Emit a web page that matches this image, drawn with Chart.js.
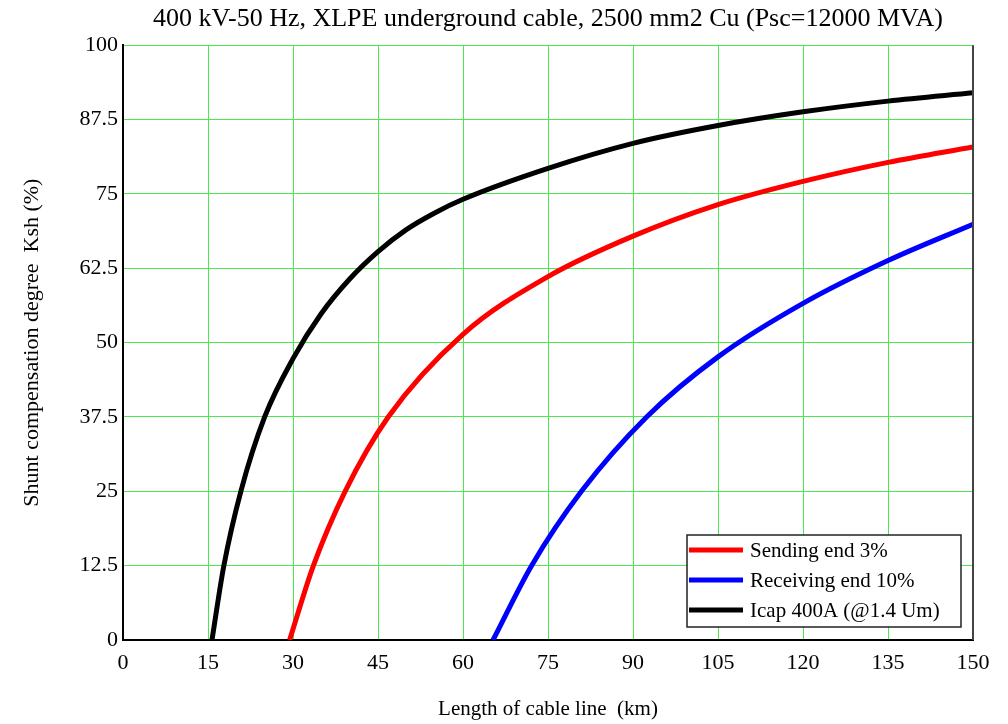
<!DOCTYPE html>
<html>
<head>
<meta charset="utf-8">
<script src="https://cdn.jsdelivr.net/npm/chart.js@4/dist/chart.umd.min.js"></script>
<style>
  html, body { margin: 0; padding: 0; background: #fff; }
  #wrap { width: 1008px; height: 724px; }
</style>
</head>
<body>
<div id="wrap"><canvas id="ksh"></canvas></div>
<script>
// Data (km, Ksh %)
const sendingKm  = [29.4, 33.6, 39.2, 46.8, 60, 75, 90, 105, 120, 135, 150];
const sendingKsh = [0, 12.5, 25, 37.5, 51.4, 61.1, 67.9, 73.2, 77.1, 80.3, 82.9];

const receivingKm  = [65.3, 72.1, 80.9, 92.4, 105, 120, 135, 150];
const receivingKsh = [0, 12.5, 25, 37.5, 47.6, 56.6, 63.8, 69.9];

const icapKm  = [15.7, 17.8, 20.8, 25, 30, 35, 40, 45, 50, 55, 60, 75, 90, 105, 120, 135, 150];
const icapKsh = [0, 12.5, 25, 37.5, 47.3, 54.9, 60.7, 65.3, 69.0, 71.8, 74.1, 79.3, 83.5, 86.5, 88.8, 90.6, 92.0];

const seriesLabels = ["Sending end 3%", "Receiving end 10%", "Icap 400A (@1.4 Um)"];
const seriesColors = ["#ff0000", "#0000ff", "#000000"];

const xTicks = [0, 15, 30, 45, 60, 75, 90, 105, 120, 135, 150];
const yTicks = [0, 12.5, 25, 37.5, 50, 62.5, 75, 87.5, 100];

const SERIF = '"Liberation Serif", "Times New Roman", serif';

const toPoints = (xs, ys) => xs.map((x, i) => ({ x: x, y: ys[i] }));

// right border of the plot
const framePlugin = {
  id: "frame",
  afterDatasetsDraw(chart) {
    const { ctx, chartArea: a } = chart;
    ctx.save();
    ctx.strokeStyle = "#444";
    ctx.lineWidth = 2;
    ctx.beginPath();
    ctx.moveTo(a.right, a.top);
    ctx.lineTo(a.right, a.bottom);
    ctx.stroke();
    ctx.restore();
  }
};

// legend box inside the plot, bottom-right
const boxLegend = {
  id: "boxLegend",
  afterDatasetsDraw(chart) {
    const { ctx, chartArea: a } = chart;
    const w = 274, h = 92;
    const x0 = a.right - 12 - w, y0 = a.bottom - 13 - h;
    ctx.save();
    ctx.fillStyle = "#fff";
    ctx.fillRect(x0, y0, w, h);
    ctx.strokeStyle = "#222";
    ctx.lineWidth = 1.5;
    ctx.strokeRect(x0, y0, w, h);
    ctx.font = "21px " + SERIF;
    ctx.textBaseline = "middle";
    chart.data.datasets.forEach((ds, i) => {
      const y = y0 + 15 + i * 30;
      ctx.strokeStyle = ds.borderColor;
      ctx.lineWidth = 5;
      ctx.beginPath();
      ctx.moveTo(x0 + 2, y);
      ctx.lineTo(x0 + 56, y);
      ctx.stroke();
      ctx.fillStyle = "#000";
      ctx.fillText(ds.label, x0 + 63, y + 1);
    });
    ctx.restore();
  }
};

const mkSet = (i, xs, ys) => ({
  label: seriesLabels[i],
  data: toPoints(xs, ys),
  borderColor: seriesColors[i],
  backgroundColor: seriesColors[i],
  borderWidth: 5,
  pointRadius: 0,
  cubicInterpolationMode: "monotone",
  fill: false
});

new Chart(document.getElementById("ksh"), {
  type: "line",
  data: {
    datasets: [
      mkSet(0, sendingKm, sendingKsh),
      mkSet(1, receivingKm, receivingKsh),
      mkSet(2, icapKm, icapKsh)
    ]
  },
  options: {
    responsive: true,
    maintainAspectRatio: false,
    animation: false,
    layout: { padding: { left: 0, right: 35, top: 0, bottom: 0 } },
    plugins: {
      legend: { display: false },
      tooltip: { enabled: false },
      title: {
        display: true,
        fullSize: false,
        text: "400 kV-50 Hz, XLPE underground cable, 2500 mm2 Cu (Psc=12000 MVA)",
        color: "#000",
        font: { family: SERIF, size: 26, weight: "normal", lineHeight: 1.2 },
        padding: { top: 4, bottom: 10 }
      }
    },
    scales: {
      x: {
        type: "linear",
        min: 0,
        max: 150,
        afterFit: s => { s.height = 84; },
        afterBuildTicks: s => { s.ticks = xTicks.map(v => ({ value: v })); },
        ticks: { color: "#000", font: { family: SERIF, size: 22 }, padding: 10, maxRotation: 0 },
        grid: { color: "#4de84d", lineWidth: 1, drawTicks: false },
        border: { color: "#000", width: 2 },
        title: {
          display: true,
          text: "Length of cable line  (km)",
          color: "#000",
          font: { family: SERIF, size: 21 },
          padding: { top: 0, bottom: 2 }
        }
      },
      y: {
        type: "linear",
        min: 0,
        max: 100,
        afterFit: s => { s.width = 123; },
        afterBuildTicks: s => { s.ticks = yTicks.map(v => ({ value: v })); },
        ticks: { color: "#000", font: { family: SERIF, size: 22 }, padding: 5 },
        grid: { color: "#4de84d", lineWidth: 1, drawTicks: false },
        border: { color: "#000", width: 2 },
        title: {
          display: true,
          text: "Shunt compensation degree  Ksh (%)",
          color: "#000",
          font: { family: SERIF, size: 22 },
          padding: { top: 19, bottom: 0 }
        }
      }
    }
  },
  plugins: [framePlugin, boxLegend]
});
</script>
</body>
</html>
